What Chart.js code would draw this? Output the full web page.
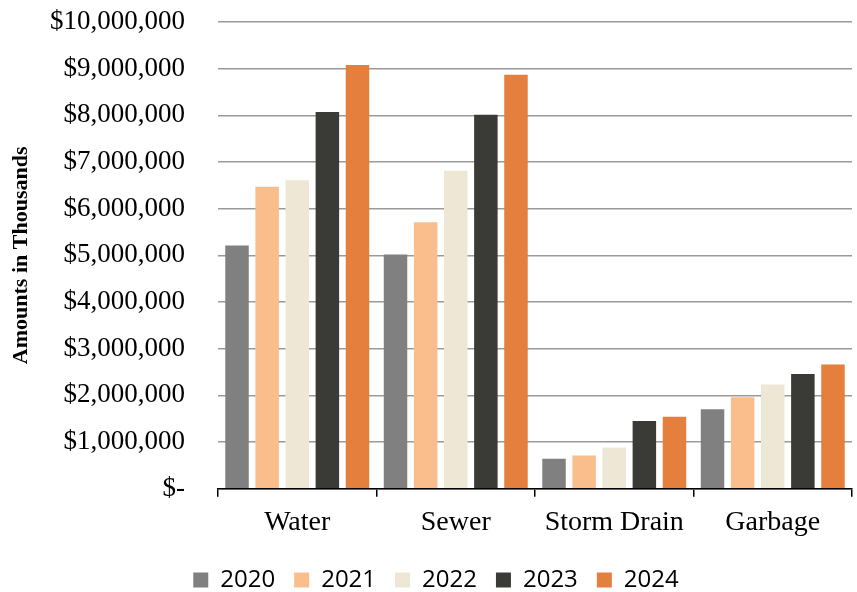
<!DOCTYPE html>
<html>
<head>
<meta charset="utf-8">
<script src="https://cdn.jsdelivr.net/npm/chart.js@4"></script>
<style>
  html, body { margin: 0; padding: 0; background: #fff; }
  #wrap { width: 857px; height: 592px; }
</style>
</head>
<body>
<div id="wrap"><canvas id="chart-funds" width="857" height="592"></canvas></div>
<script>
const categories = ["Water", "Sewer", "Storm Drain", "Garbage"];

const years = ["2020", "2021", "2022", "2023", "2024"];
const yearColors = ["#808080", "#f9be8c", "#efe7d6", "#3a3b37", "#e47f3d"];

const amounts2020 = [5210000, 5020000, 640000, 1700000];
const amounts2021 = [6470000, 5710000, 710000, 1960000];
const amounts2022 = [6610000, 6810000, 880000, 2230000];
const amounts2023 = [8070000, 8010000, 1450000, 2460000];
const amounts2024 = [9080000, 8870000, 1540000, 2660000];

const allAmounts = [amounts2020, amounts2021, amounts2022, amounts2023, amounts2024];

function dollarLabel(value) {
    if (value === 0) return '$-';
    return '$' + value.toLocaleString('en-US');
}

let chart = new Chart('chart-funds', {
    type: 'bar',
    data: {
        labels: categories,
        datasets: years.map((year, i) => {
            return {
                label: year,
                data: allAmounts[i],
                backgroundColor: yearColors[i],
                borderWidth: 0,
                categoryPercentage: 0.95,
                barPercentage: 0.78
            }
        })
    },
    options: {
        responsive: false,
        animation: false,
        layout: {
            padding: { top: 22, left: 20, right: 5, bottom: -10 }
        },
        plugins: {
            tooltip: { enabled: false },
            legend: {
                position: 'bottom',
                labels: {
                    color: '#000',
                    font: { family: '"Open Sans"', size: 24 },
                    boxWidth: 15,
                    boxHeight: 15,
                    padding: 19
                }
            }
        },
        scales: {
            x: {
                grid: {
                    display: true,
                    drawOnChartArea: false,
                    drawTicks: true,
                    tickLength: 8,
                    color: '#000',
                    lineWidth: 1.5,
                    offset: true
                },
                border: { display: true, color: '#000', width: 1.5 },
                ticks: {
                    color: '#000',
                    padding: 6,
                    font: { family: '"Liberation Serif"', size: 28, lineHeight: 1.44 },
                    maxRotation: 0
                }
            },
            y: {
                min: 0,
                max: 10000000,
                afterFit: (scale) => {
                    // fixed width so the plot starts where the original does
                    scale.width = 198;
                    scale.paddingTop = 0;
                    scale.paddingBottom = 0;
                },
                grid: {
                    color: '#9a9a9a',
                    lineWidth: 1.5,
                    drawTicks: false
                },
                border: { display: false },
                ticks: {
                    stepSize: 1000000,
                    color: '#000',
                    padding: 33,
                    font: { family: '"Liberation Serif"', size: 27 },
                    callback: dollarLabel
                },
                title: {
                    display: true,
                    text: 'Amounts in Thousands',
                    color: '#000',
                    font: { family: '"Liberation Serif"', size: 22, weight: 'bold' },
                    padding: { top: -12, bottom: 0 }
                }
            }
        }
    }
});
console.log('rendered chart');
</script>
</body>
</html>
